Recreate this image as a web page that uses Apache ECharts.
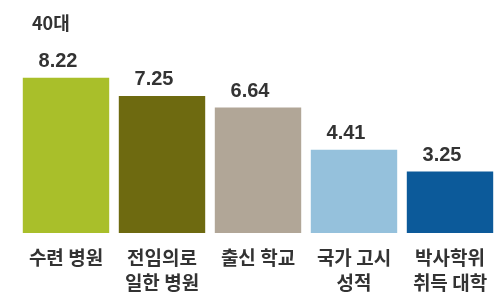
<!DOCTYPE html>
<html><head><meta charset="utf-8">
<script src="https://cdn.jsdelivr.net/npm/echarts@6/dist/echarts.min.js"></script>
<style>html,body{margin:0;padding:0;background:#fff}#c{width:498px;height:295px}</style>
</head><body><div id="c"></div>
<script>
const title = '40대';
const categories = ['수련 병원', '전임의로\n일한 병원', '출신 학교', '국가 고시\n성적', '박사학위\n취득 대학'];
const values = [8.22, 7.25, 6.64, 4.41, 3.25];
const colors = ['#a9bf2a', '#6e6a10', '#b1a697', '#95c1dc', '#0c5a9a'];

const chart = echarts.init(document.getElementById('c'), null, {renderer: 'canvas'});
chart.setOption({
  animation: false,
  title: {text: title, left: 27, top: 9, textStyle: {fontSize: 18, fontWeight: 'bold', color: '#333', fontFamily: 'Noto Sans CJK KR'}},
  grid: {left: 18, width: 482, top: 44, bottom: 58},
  xAxis: {type: 'category', data: categories,
    axisLine: {show: false}, axisTick: {show: false},
    axisLabel: {interval: 0, margin: 12, fontSize: 19, fontWeight: 'bold', color: '#333', lineHeight: 25, fontFamily: 'Noto Sans CJK KR'}},
  yAxis: {type: 'value', min: 0, max: 10, show: false, splitLine: {show: false}},
  series: [{
    type: 'bar', barCategoryGap: '10%',
    data: values.map((v, i) => ({value: v, itemStyle: {color: colors[i]}})),
    label: {show: true, position: 'top', distance: 6, offset: [-8, 0], fontSize: 20, fontWeight: 'bold', color: '#333', fontFamily: 'Liberation Sans',
      formatter: p => p.value.toFixed(2)}
  }]
});
</script></body></html>
